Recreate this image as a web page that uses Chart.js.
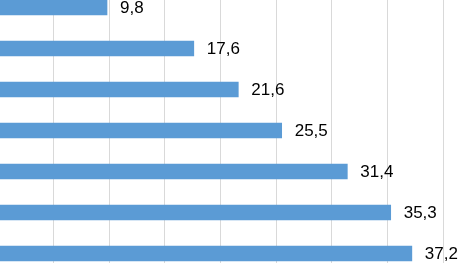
<!DOCTYPE html>
<html>
<head>
<meta charset="utf-8">
<script src="https://cdn.jsdelivr.net/npm/chart.js@4"></script>
<style>
  html, body { margin: 0; padding: 0; background: #fff; overflow: hidden; }
  #wrap { position: absolute; left: -2px; top: -13px; width: 460px; height: 287px; }
</style>
</head>
<body>
<div id="wrap"><canvas id="chart"></canvas></div>
<script>
// categories (names are cropped out of the picture)
const categories = ['A', 'B', 'C', 'D', 'E', 'F', 'G'];
const values = [9.8, 17.6, 21.6, 25.5, 31.4, 35.3, 37.2];
const xMin = 0;
const xMax = 40;
const xStep = 5;

// value labels next to the bars, with a decimal comma
const valueLabels = {
    id: 'valueLabels',
    afterDatasetsDraw(chart) {
        const ctx = chart.ctx;
        const meta = chart.getDatasetMeta(0);
        ctx.save();
        ctx.font = '17px "Liberation Sans", Arial, sans-serif';
        ctx.fillStyle = '#000';
        ctx.textBaseline = 'middle';
        ctx.textAlign = 'left';
        meta.data.forEach((bar, i) => {
            const txt = values[i].toFixed(1).replace('.', ',');
            ctx.fillText(txt, bar.x + 13, bar.y + 1);
        });
        ctx.restore();
    }
};

new Chart(document.getElementById('chart'), {
    type: 'bar',
    data: {
        labels: categories,
        datasets: [{
            data: values,
            backgroundColor: '#5b9bd5',
            barThickness: 15
        }]
    },
    options: {
        indexAxis: 'y',
        responsive: true,
        maintainAspectRatio: false,
        animation: false,
        layout: { padding: { left: 0, right: 15, top: 0, bottom: 0 } },
        plugins: {
            legend: { display: false },
            tooltip: { enabled: false }
        },
        scales: {
            x: {
                min: xMin,
                max: xMax,
                ticks: { display: false, stepSize: xStep },
                grid: { color: '#d9d9d9', lineWidth: 1, drawTicks: false },
                border: { display: false }
            },
            y: {
                display: false
            }
        }
    },
    plugins: [valueLabels]
});
</script>
</body>
</html>
